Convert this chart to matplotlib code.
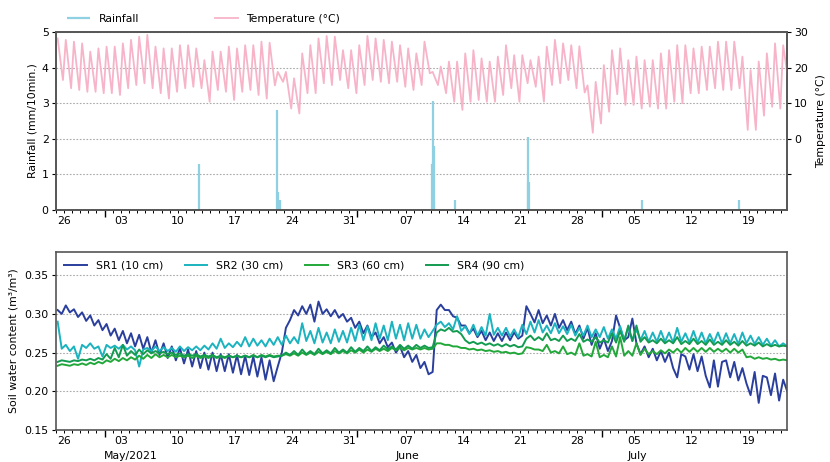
import numpy as np
import matplotlib
matplotlib.use("Agg")
import matplotlib.pyplot as plt
import matplotlib.dates as mdates
from matplotlib.ticker import FuncFormatter, NullFormatter

# Days are counted from 2021-04-25 00:00
start_date = "2021-04-25"

# Daily air temperature extremes (°C), day 0 .. day 89
temp_max = [28.2, 27.8, 27.3, 26.8, 24.5, 25.4, 25.9, 25.9, 26.8, 27.8,
            28.7, 29.2, 25.9, 25.4, 25.4, 26.3, 26.3, 25.4, 22.1, 24.5,
            24.5, 25.9, 25.4, 26.3, 26.3, 27.3, 27.0, 18.8, 18.8, 17.0,
            24.0, 26.3, 28.2, 28.9, 28.7, 24.9, 24.9, 26.3, 28.9, 28.2,
            27.8, 27.3, 26.3, 25.4, 24.0, 27.3, 18.8, 20.3, 21.7, 21.7,
            24.0, 24.9, 22.6, 21.7, 23.1, 26.3, 23.5, 23.5, 22.1, 23.1,
            25.9, 27.8, 26.8, 26.3, 26.0, 15.0, 16.0, 20.7, 24.9, 25.4,
            22.1, 23.1, 22.1, 22.1, 24.0, 24.9, 26.3, 26.3, 25.4, 25.9,
            25.9, 27.3, 27.3, 27.3, 23.1, 19.3, 21.7, 24.0, 26.8, 26.3]
temp_min = [16.5, 14.2, 13.7, 13.2, 13.2, 12.8, 12.8, 12.3, 14.2, 15.1,
            15.6, 14.2, 12.8, 11.3, 13.2, 14.2, 14.6, 14.2, 10.4, 13.7,
            13.2, 10.9, 13.2, 13.7, 12.3, 11.3, 15.0, 16.0, 8.5, 7.1,
            12.8, 12.8, 15.6, 15.1, 16.5, 14.2, 12.8, 15.1, 16.5, 16.0,
            15.6, 16.0, 14.6, 13.7, 15.1, 18.4, 15.1, 12.8, 10.4, 8.1,
            10.4, 10.9, 10.4, 10.4, 12.3, 14.2, 10.4, 15.6, 14.6, 10.4,
            15.1, 15.6, 16.5, 14.2, 13.0, 1.7, 4.3, 7.6, 12.5, 9.5,
            9.5, 8.5, 9.0, 8.5, 8.5, 10.4, 10.0, 12.8, 12.8, 13.7,
            14.2, 13.7, 13.7, 14.2, 2.5, 2.5, 6.5, 9.0, 8.5, 16.0]

# Rainfall events (day offset, mm/10min.)
rain_day = [17.6, 27.2, 27.28, 27.55, 46.15, 46.25, 46.32, 46.38, 46.45,
            49.0, 57.9, 58.0, 58.1, 71.9, 83.8]
rain_mm = [1.3, 2.8, 0.5, 0.27, 1.3, 1.35, 3.05, 1.8, 0.25,
           0.27, 2.05, 0.8, 0.8, 0.27, 0.27]

# Soil water content (m3/m3): morning / evening readings per day
sr1_am = [0.305, 0.311, 0.306, 0.302, 0.298, 0.292, 0.287, 0.281, 0.278, 0.275,
          0.273, 0.270, 0.266, 0.262, 0.258, 0.256, 0.254, 0.252, 0.250, 0.250,
          0.248, 0.248, 0.247, 0.246, 0.245, 0.244, 0.240, 0.232, 0.282, 0.305,
          0.310, 0.312, 0.316, 0.306, 0.305, 0.300, 0.295, 0.290, 0.285, 0.276,
          0.270, 0.263, 0.258, 0.252, 0.247, 0.238, 0.225, 0.312, 0.305, 0.295,
          0.285, 0.281, 0.278, 0.276, 0.275, 0.276, 0.276, 0.272, 0.300, 0.305,
          0.298, 0.300, 0.292, 0.290, 0.285, 0.282, 0.275, 0.268, 0.265, 0.282,
          0.270, 0.262, 0.258, 0.255, 0.252, 0.250, 0.218, 0.245, 0.248, 0.245,
          0.205, 0.206, 0.240, 0.238, 0.230, 0.195, 0.185, 0.218, 0.223, 0.215]
sr1_pm = [0.300, 0.302, 0.296, 0.291, 0.285, 0.279, 0.272, 0.266, 0.262, 0.258,
          0.255, 0.250, 0.247, 0.243, 0.240, 0.236, 0.232, 0.230, 0.228, 0.226,
          0.226, 0.224, 0.222, 0.221, 0.219, 0.215, 0.213, 0.250, 0.292, 0.298,
          0.300, 0.290, 0.300, 0.297, 0.295, 0.290, 0.282, 0.275, 0.270, 0.262,
          0.257, 0.250, 0.244, 0.238, 0.230, 0.222, 0.305, 0.305, 0.297, 0.285,
          0.275, 0.270, 0.266, 0.265, 0.265, 0.266, 0.268, 0.310, 0.289, 0.288,
          0.285, 0.282, 0.279, 0.274, 0.268, 0.260, 0.255, 0.252, 0.298, 0.266,
          0.294, 0.248, 0.244, 0.240, 0.238, 0.230, 0.248, 0.228, 0.226, 0.220,
          0.240, 0.238, 0.218, 0.214, 0.210, 0.225, 0.220, 0.195, 0.188, 0.200]

sr2_am = [0.290, 0.260, 0.258, 0.260, 0.262, 0.258, 0.260, 0.259, 0.260, 0.258,
          0.232, 0.256, 0.258, 0.257, 0.256, 0.258, 0.257, 0.258, 0.259, 0.262,
          0.268, 0.262, 0.264, 0.270, 0.268, 0.266, 0.268, 0.270, 0.272, 0.270,
          0.288, 0.278, 0.282, 0.276, 0.280, 0.278, 0.282, 0.286, 0.284, 0.288,
          0.285, 0.290, 0.286, 0.288, 0.286, 0.280, 0.278, 0.290, 0.288, 0.297,
          0.284, 0.286, 0.283, 0.300, 0.282, 0.282, 0.280, 0.286, 0.290, 0.292,
          0.285, 0.288, 0.284, 0.286, 0.282, 0.285, 0.280, 0.283, 0.280, 0.284,
          0.283, 0.280, 0.278, 0.276, 0.278, 0.276, 0.282, 0.275, 0.278, 0.276,
          0.274, 0.276, 0.275, 0.274, 0.276, 0.272, 0.270, 0.268, 0.266, 0.262]
sr2_pm = [0.255, 0.252, 0.242, 0.256, 0.255, 0.245, 0.256, 0.255, 0.254, 0.253,
          0.254, 0.252, 0.252, 0.252, 0.251, 0.252, 0.253, 0.253, 0.254, 0.255,
          0.256, 0.257, 0.258, 0.258, 0.259, 0.258, 0.260, 0.260, 0.262, 0.262,
          0.265, 0.262, 0.263, 0.262, 0.264, 0.263, 0.265, 0.266, 0.266, 0.268,
          0.266, 0.268, 0.266, 0.268, 0.268, 0.270, 0.286, 0.283, 0.280, 0.278,
          0.274, 0.272, 0.272, 0.273, 0.272, 0.271, 0.270, 0.274, 0.276, 0.276,
          0.275, 0.275, 0.274, 0.272, 0.272, 0.270, 0.270, 0.268, 0.268, 0.266,
          0.265, 0.266, 0.264, 0.264, 0.264, 0.263, 0.264, 0.263, 0.263, 0.262,
          0.263, 0.262, 0.262, 0.261, 0.262, 0.261, 0.260, 0.259, 0.258, 0.258]

sr3_am = [0.233, 0.234, 0.235, 0.236, 0.237, 0.238, 0.240, 0.242, 0.243, 0.244,
          0.246, 0.247, 0.248, 0.247, 0.247, 0.246, 0.246, 0.246, 0.245, 0.246,
          0.245, 0.246, 0.246, 0.246, 0.247, 0.247, 0.247, 0.246, 0.248, 0.249,
          0.250, 0.250, 0.251, 0.251, 0.252, 0.252, 0.253, 0.254, 0.254, 0.255,
          0.255, 0.256, 0.256, 0.256, 0.256, 0.256, 0.255, 0.262, 0.260, 0.258,
          0.256, 0.255, 0.254, 0.253, 0.252, 0.251, 0.250, 0.249, 0.256, 0.254,
          0.260, 0.252, 0.258, 0.250, 0.262, 0.248, 0.264, 0.247, 0.258, 0.270,
          0.252, 0.262, 0.255, 0.252, 0.253, 0.254, 0.255, 0.256, 0.256, 0.256,
          0.256, 0.255, 0.255, 0.255, 0.254, 0.245, 0.244, 0.243, 0.242, 0.241]
sr3_pm = [0.235, 0.233, 0.234, 0.234, 0.235, 0.236, 0.238, 0.239, 0.240, 0.241,
          0.242, 0.243, 0.244, 0.244, 0.244, 0.244, 0.243, 0.243, 0.243, 0.243,
          0.243, 0.244, 0.244, 0.244, 0.244, 0.245, 0.245, 0.246, 0.246, 0.246,
          0.247, 0.247, 0.248, 0.248, 0.249, 0.249, 0.250, 0.250, 0.251, 0.252,
          0.252, 0.253, 0.253, 0.254, 0.254, 0.254, 0.262, 0.260, 0.258, 0.256,
          0.254, 0.253, 0.252, 0.251, 0.250, 0.249, 0.248, 0.257, 0.254, 0.252,
          0.250, 0.249, 0.248, 0.247, 0.246, 0.245, 0.244, 0.244, 0.245, 0.246,
          0.246, 0.247, 0.248, 0.248, 0.249, 0.250, 0.250, 0.251, 0.251, 0.251,
          0.251, 0.251, 0.250, 0.250, 0.244, 0.242, 0.242, 0.241, 0.240, 0.240]

sr4_am = [0.238, 0.239, 0.240, 0.241, 0.242, 0.243, 0.248, 0.256, 0.260, 0.252,
          0.254, 0.253, 0.252, 0.251, 0.250, 0.249, 0.248, 0.248, 0.247, 0.247,
          0.246, 0.246, 0.246, 0.246, 0.246, 0.246, 0.246, 0.245, 0.250, 0.252,
          0.254, 0.252, 0.255, 0.253, 0.256, 0.254, 0.257, 0.256, 0.258, 0.257,
          0.259, 0.258, 0.260, 0.259, 0.260, 0.259, 0.257, 0.280, 0.282, 0.278,
          0.266, 0.264, 0.263, 0.262, 0.261, 0.261, 0.260, 0.258, 0.272, 0.270,
          0.275, 0.268, 0.272, 0.268, 0.274, 0.267, 0.270, 0.266, 0.275, 0.278,
          0.285, 0.285, 0.270, 0.266, 0.268, 0.266, 0.270, 0.265, 0.268, 0.265,
          0.267, 0.264, 0.266, 0.264, 0.265, 0.262, 0.263, 0.261, 0.260, 0.259]
sr4_pm = [0.240, 0.238, 0.239, 0.240, 0.240, 0.241, 0.242, 0.244, 0.246, 0.247,
          0.248, 0.249, 0.249, 0.248, 0.247, 0.246, 0.246, 0.245, 0.245, 0.244,
          0.244, 0.244, 0.244, 0.244, 0.244, 0.244, 0.244, 0.246, 0.247, 0.247,
          0.248, 0.248, 0.249, 0.249, 0.250, 0.250, 0.251, 0.252, 0.252, 0.253,
          0.254, 0.254, 0.255, 0.255, 0.256, 0.256, 0.276, 0.278, 0.277, 0.274,
          0.262, 0.261, 0.260, 0.259, 0.258, 0.258, 0.257, 0.268, 0.266, 0.266,
          0.266, 0.265, 0.265, 0.265, 0.264, 0.264, 0.263, 0.263, 0.263, 0.264,
          0.265, 0.264, 0.263, 0.262, 0.262, 0.262, 0.261, 0.261, 0.261, 0.260,
          0.260, 0.260, 0.260, 0.259, 0.259, 0.259, 0.258, 0.258, 0.258, 0.258]

sr_labels = ["SR1 (10 cm)", "SR2 (30 cm)", "SR3 (60 cm)", "SR4 (90 cm)"]
sr_colors = ["#2a3f9d", "#1bb3bf", "#22a83a", "#139b50"]

month_labels = ["May/2021", "June", "July"]
month_label_days = [9.2, 43.1, 71.3]

x_end_day = 89.7

FS = 7.8

# ---------------------------------------------------------------------------
t0 = mdates.date2num(np.datetime64(start_date))
days = np.arange(len(temp_max))


def interleave(first, second, off1, off2):
    t = np.column_stack([days + off1, days + off2]).ravel() + t0
    v = np.column_stack([first, second]).ravel()
    return t, v


def monday_label(x, pos):
    d = mdates.num2date(x)
    return d.strftime("%d") if d.weekday() == 0 else ""


def style_axes(ax):
    ax.xaxis.set_major_locator(mdates.MonthLocator())
    ax.xaxis.set_major_formatter(NullFormatter())
    ax.xaxis.set_minor_locator(mdates.DayLocator())
    ax.xaxis.set_minor_formatter(FuncFormatter(monday_label))
    ax.tick_params(axis="x", which="major", length=5, width=1)
    ax.tick_params(axis="x", which="minor", length=2.5, width=0.7,
                   labelsize=FS, pad=2)
    ax.tick_params(axis="y", labelsize=FS, length=3, pad=2)
    ax.set_xlim(t0, t0 + x_end_day)
    for s in ax.spines.values():
        s.set_color("#555555")
        s.set_linewidth(1.2)


plt.rcParams["font.family"] = "DejaVu Sans"
fig = plt.figure(figsize=(8.3, 4.62), dpi=100)
ax1 = fig.add_axes([0.067, 0.5455, 0.881, 0.3852])
ax3 = fig.add_axes([0.067, 0.0693, 0.881, 0.3852])

# Top panel: rainfall + temperature
ax1.vlines(t0 + np.array(rain_day), 0, rain_mm, color="#8fd1e3", lw=1.6,
           label="Rainfall")
ax1.set_ylim(0, 5)
ax1.set_yticks([0, 1, 2, 3, 4, 5])
ax1.set_ylabel("Rainfall (mm/10min.)", fontsize=FS, labelpad=3)
ax1.grid(axis="y", linestyle=(0, (1.5, 1.5)), color="#aaaaaa", lw=0.8)
style_axes(ax1)

ax2 = ax1.twinx()
tt, tv = interleave(temp_max, temp_min, 0.25, 0.9)
ax2.plot(tt, tv, color="#f7b4c8", lw=1.3, label="Temperature (°C)")
ax2.set_ylim(-20, 30)
ax2.set_yticks([-10, 0, 10, 20, 30])
ax2.set_yticklabels(["", "0", "10", "20", "30"])
ax2.set_ylabel("Temperature (°C)", fontsize=FS, labelpad=6)
ax2.tick_params(axis="y", labelsize=FS, length=3, pad=2)
for s in ax2.spines.values():
    s.set_color("#555555")
    s.set_linewidth(1.2)

h1, l1 = ax1.get_legend_handles_labels()
h2, l2 = ax2.get_legend_handles_labels()
ax1.legend(h1 + h2, l1 + l2, loc="lower left", bbox_to_anchor=(0.005, 1.0),
           ncol=2, frameon=False, fontsize=FS, handlelength=2.1,
           columnspacing=7.0, borderaxespad=0.35)

# Bottom panel: soil water content
sr_am = [sr1_am, sr2_am, sr3_am, sr4_am]
sr_pm = [sr1_pm, sr2_pm, sr3_pm, sr4_pm]
for am, pm, lab, col in zip(sr_am, sr_pm, sr_labels, sr_colors):
    st, sv = interleave(am, pm, 0.25, 0.75)
    ax3.plot(st, sv, color=col, lw=1.4, label=lab)

ax3.set_ylim(0.15, 0.38)
ax3.set_yticks([0.15, 0.20, 0.25, 0.30, 0.35])
ax3.set_yticklabels([f"{v:.2f}" for v in [0.15, 0.20, 0.25, 0.30, 0.35]])
ax3.set_ylabel("Soil water content (m³/m³)", fontsize=FS, labelpad=4)
ax3.grid(axis="y", linestyle=(0, (1.5, 1.5)), color="#aaaaaa", lw=0.8)
style_axes(ax3)
ax3.legend(loc="upper left", ncol=4, frameon=False, fontsize=FS,
           handlelength=2.1, columnspacing=2.0, borderaxespad=0.4)

for lab, d in zip(month_labels, month_label_days):
    ax3.text(t0 + d, -0.146, lab, transform=ax3.get_xaxis_transform(),
             ha="center", va="center", fontsize=FS)

fig.savefig("out.png", dpi=100)
